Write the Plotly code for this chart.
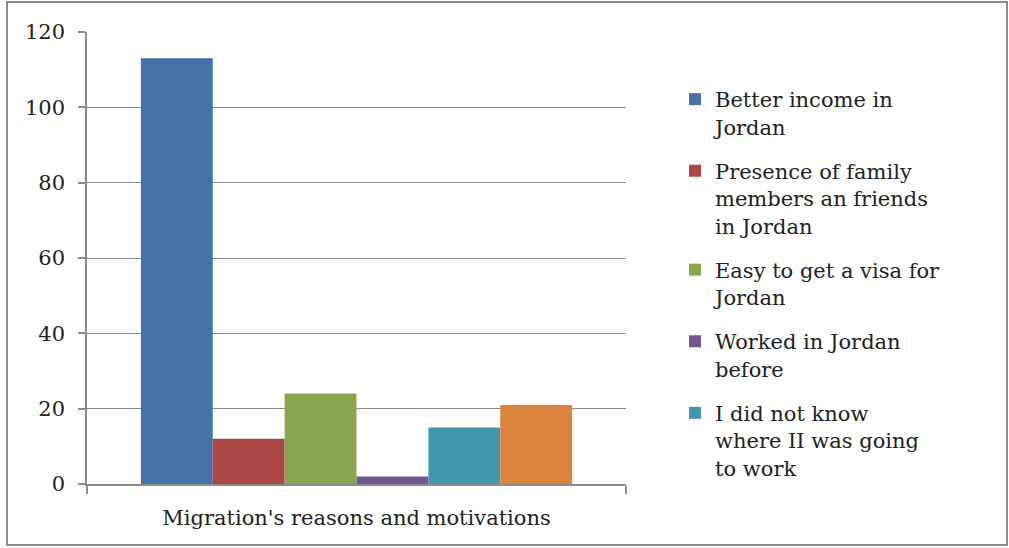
import plotly.graph_objects as go

# Survey responses: reasons for migrating to Jordan
category = "Migration's reasons and motivations"
reasons = [
    "Better income in<br>Jordan",
    "Presence of family<br>members an friends<br>in Jordan",
    "Easy to get a visa for<br>Jordan",
    "Worked in Jordan<br>before",
    "I did not know<br>where II was going<br>to work",
    "Other",
]
counts = [113, 12, 24, 2, 15, 21]
colors = ["#4572A7", "#AA4643", "#89A54E", "#71588F", "#4198AF", "#DB843D"]
in_legend = [True, True, True, True, True, False]
y_ticks = [0, 20, 40, 60, 80, 100, 120]

FONT = "DejaVu Serif"
GRID = "#8c8c8c"
TEXT = "#222222"

fig = go.Figure()
for i, (name, val, col, show) in enumerate(zip(reasons, counts, colors, in_legend)):
    fig.add_trace(go.Bar(
        x=[category], y=[val], name=name,
        marker=dict(color=col, line=dict(width=0)),
        showlegend=show, legendgroup=f"g{i}",
    ))

W, H = 1009, 548
L, R, T, B = 87, 626, 32, 484
pw, ph = R - L, B - T

def px_x(x):
    return (x - L) / pw

def px_y(y):
    return (B - y) / ph

fig.update_layout(
    width=W, height=H,
    margin=dict(l=L, r=W - R, t=T, b=H - B),
    paper_bgcolor="white", plot_bgcolor="white",
    barmode="group", bargap=0.2, bargroupgap=0,
    font=dict(family=FONT, size=21, color=TEXT),
    legend=dict(
        x=px_x(675), y=px_y(79), xanchor="left", yanchor="top",
        font=dict(family=FONT, size=21, color=TEXT),
        tracegroupgap=14, valign="top",
        bgcolor="rgba(0,0,0,0)",
    ),
    xaxis=dict(
        showline=True, linecolor=GRID, linewidth=1.5,
        ticks="outside", tickson="boundaries", ticklen=8, tickcolor=GRID,
        tickwidth=1.5, showgrid=False, ticklabelstandoff=14,
        tickfont=dict(family=FONT, size=21, color=TEXT),
    ),
    yaxis=dict(
        range=[0, 120], tickvals=y_ticks,
        showline=True, linecolor=GRID, linewidth=1.5,
        ticks="outside", ticklen=7, tickcolor=GRID, tickwidth=1.5,
        showgrid=True, gridcolor=GRID, gridwidth=1.2,
        zeroline=False, ticklabelstandoff=9,
        tickfont=dict(family=FONT, size=21, color=TEXT),
    ),
    shapes=[dict(
        type="rect", xref="paper", yref="paper",
        x0=px_x(7), x1=px_x(1007), y0=px_y(545), y1=px_y(2),
        line=dict(color="#8a8a8a", width=2), fillcolor="rgba(0,0,0,0)",
        layer="below",
    )],
)

fig.write_html("out.html")
